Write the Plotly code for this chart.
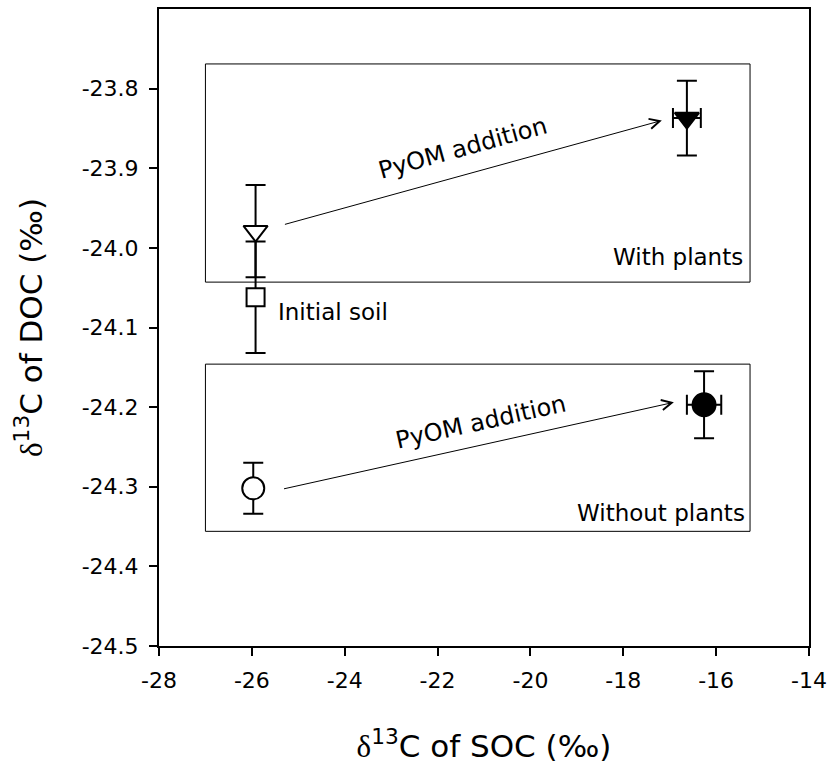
import plotly.graph_objects as go

# ---- data ----
treatments = ["Initial soil", "With plants, control", "With plants, PyOM",
              "Without plants, control", "Without plants, PyOM"]
soc = [-25.92, -25.92, -16.63, -25.97, -16.26]          # δ13C of SOC (‰)
soc_err = [0.0, 0.0, 0.30, 0.0, 0.37]
doc = [-24.062, -23.979, -23.837, -24.302, -24.197]     # δ13C of DOC (‰)
doc_err = [0.070, 0.058, 0.047, 0.032, 0.042]
symbols = ["square", "triangle-down", "triangle-down", "circle", "circle"]
fills = ["white", "white", "black", "white", "black"]
sizes = [18, 21, 21, 22, 23]

x_ticks = [-28, -26, -24, -22, -20, -18, -16, -14]
y_ticks = [-24.5, -24.4, -24.3, -24.2, -24.1, -24.0, -23.9, -23.8]

# group boxes: [x0, x1, y0, y1]
box_with = [-27.0, -15.27, -24.043, -23.769]
box_without = [-27.0, -15.27, -24.356, -24.146]

# PyOM arrows: start (control) -> end (PyOM)
arrow_with = [-25.32, -23.971, -17.17, -23.840]
arrow_without = [-25.34, -24.303, -16.91, -24.194]

# labels: text, x, y, anchor, angle
labels = [
    ("PyOM addition", -21.45, -23.875, "center", -15.5),
    ("PyOM addition", -21.07, -24.219, "center", -12.6),
    ("With plants", -15.38, -24.011, "right", 0),
    ("Without plants", -15.34, -24.333, "right", 0),
    ("Initial soil", -25.48, -24.081, "left", 0),
]

FONT = "DejaVu Sans"

fig = go.Figure()
for i, name in enumerate(treatments):
    fig.add_trace(go.Scatter(
        x=[soc[i]], y=[doc[i]], name=name, mode="markers",
        marker=dict(symbol=symbols[i], size=sizes[i], color=fills[i],
                    line=dict(color="black", width=2)),
        error_y=dict(type="data", array=[doc_err[i]], color="black",
                     thickness=2, width=10, visible=True),
        error_x=dict(type="data", array=[soc_err[i]], color="black",
                     thickness=2, width=10, visible=soc_err[i] > 0),
        showlegend=False,
    ))

for b in (box_with, box_without):
    fig.add_shape(type="rect", xref="x", yref="y", x0=b[0], x1=b[1],
                  y0=b[2], y1=b[3], line=dict(color="black", width=1),
                  layer="below")

for a in (arrow_with, arrow_without):
    fig.add_annotation(x=a[2], y=a[3], ax=a[0], ay=a[1], xref="x", yref="y",
                       axref="x", ayref="y", text="", showarrow=True,
                       arrowhead=5, arrowsize=2, arrowwidth=1,
                       arrowcolor="black")

for t, x, y, anc, ang in labels:
    fig.add_annotation(x=x, y=y, xref="x", yref="y", text=t, showarrow=False,
                       xanchor=anc, yanchor="middle", textangle=ang,
                       font=dict(family=FONT, size=23 if ang == 0 else 24,
                                 color="black"))

delta = '<span style="font-family:Liberation Serif">δ</span>'
fig.update_layout(
    width=828, height=766,
    margin=dict(l=159, r=19, t=9, b=120),
    paper_bgcolor="white", plot_bgcolor="white",
    font=dict(family=FONT, size=22, color="black"),
    xaxis=dict(
        range=[-28, -14], tickvals=x_ticks,
        ticktext=[str(v) for v in x_ticks],
        showgrid=False, zeroline=False, showline=True, linecolor="black",
        linewidth=2, mirror=True, ticks="outside", ticklen=8, tickwidth=2,
        tickcolor="black", ticklabelstandoff=6,
        title=dict(text=delta + "<sup>13</sup>C of SOC (‰)",
                   font=dict(family=FONT, size=31), standoff=43),
        automargin=False,
    ),
    yaxis=dict(
        range=[-24.5, -23.7], tickvals=y_ticks,
        ticktext=[f"{v:.1f}" for v in y_ticks],
        showgrid=False, zeroline=False, showline=True, linecolor="black",
        linewidth=2, mirror=True, ticks="outside", ticklen=8, tickwidth=2,
        tickcolor="black", ticklabelstandoff=6,
        title=dict(text=delta + "<sup>13</sup>C of DOC (‰)",
                   font=dict(family=FONT, size=31), standoff=30),
        automargin=False,
    ),
)

fig.write_html("out.html")
